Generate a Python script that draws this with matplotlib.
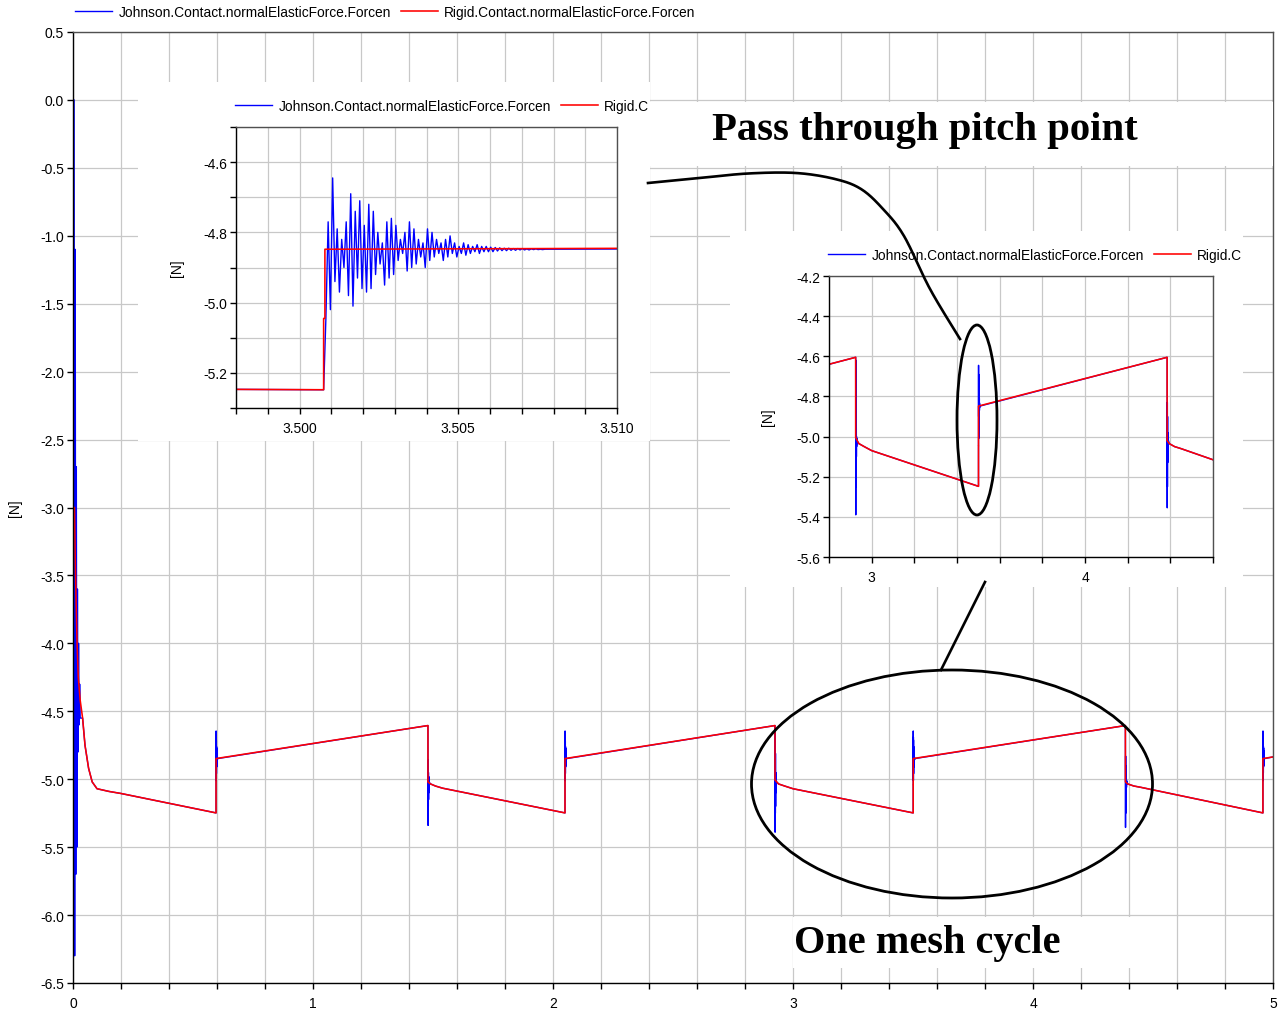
import numpy as np
import matplotlib
matplotlib.use("Agg")
import matplotlib.pyplot as plt
from matplotlib.patches import Ellipse, Rectangle
from matplotlib.lines import Line2D
from matplotlib.ticker import FormatStrFormatter, MultipleLocator

plt.rcParams['font.family'] = ['Liberation Sans', 'DejaVu Sans']
plt.rcParams['axes.unicode_minus'] = False

# ---------------- data ----------------
# Rigid contact model: breakpoints of the trace (time [s], force [N])
rigid_t = [0.000, 0.006, 0.009, 0.013, 0.017, 0.022, 0.030, 0.040, 0.050, 0.065, 0.080, 0.100, 0.150, 0.200,
           0.596, 0.596, 1.479, 1.479, 1.490, 1.510, 1.540, 2.050, 2.050,
           2.925, 2.925, 2.940, 2.965, 3.000, 3.50076, 3.50076, 3.50080, 3.50080,
           4.385, 4.385, 4.395, 4.420, 4.450, 4.958, 4.958, 5.000]
rigid_f = [-3.00, -3.00, -3.35, -3.70, -4.00, -4.25, -4.42, -4.55, -4.75, -4.92, -5.02, -5.07, -5.09, -5.105,
           -5.248, -4.848, -4.605, -5.020, -5.035, -5.050, -5.066, -5.248, -4.848,
           -4.605, -5.005, -5.035, -5.050, -5.070, -5.248, -5.045, -5.045, -4.848,
           -4.605, -5.020, -5.035, -5.050, -5.060, -5.248, -4.848, -4.836]

# Johnson contact model: same trace, plus the oscillation bursts at each contact change
start_burst = [0.0, 0.0, 0.0, -6.3, -1.1, -5.7, -2.7, -5.5, -3.6, -4.8, -4.0, -4.6, -4.3, -4.55]
pitch_burst = [-5.248, -5.045, -4.77, -5.02, -4.645, -4.94, -4.79, -4.97, -4.82, -4.90, -4.77, -4.98,
               -4.69, -5.01, -4.74, -4.93, -4.71, -4.96, -4.78, -4.97, -4.72, -4.96, -4.74, -4.92,
               -4.80, -4.89, -4.83, -4.95, -4.77, -4.93, -4.76, -4.92, -4.78, -4.88, -4.82, -4.86,
               -4.80, -4.91, -4.77, -4.90, -4.79, -4.89, -4.82, -4.87, -4.83, -4.90, -4.79, -4.88,
               -4.80, -4.87, -4.82, -4.86, -4.83, -4.88, -4.82, -4.87, -4.81, -4.86, -4.83, -4.87,
               -4.84, -4.86, -4.83, -4.865, -4.835, -4.86, -4.84, -4.855, -4.835, -4.86, -4.84, -4.855,
               -4.84, -4.855, -4.842, -4.855, -4.843, -4.853, -4.844, -4.852, -4.845, -4.852, -4.845, -4.851,
               -4.846, -4.851, -4.846, -4.85, -4.846, -4.85, -4.847, -4.85, -4.847, -4.849, -4.847, -4.849,
               -4.848, -4.849, -4.848, -4.848]
drop_burst_1 = [-4.605, -5.34, -4.86, -5.20, -4.95, -5.15, -4.98, -5.10, -5.00, -5.06, -5.02, -5.04, -5.025]
drop_burst_2 = [-4.605, -5.39, -4.62, -5.25, -4.81, -5.20, -4.95, -5.10, -5.00, -5.05, -5.01, -5.035, -5.02]
drop_burst_3 = [-4.605, -5.355, -4.83, -5.25, -4.90, -5.13, -4.98, -5.10, -5.00, -5.06, -5.01, -5.04, -5.02]
bursts = [(0.0, 0.030, start_burst),
          (0.596, 0.603, pitch_burst),
          (1.479, 1.485, drop_burst_1),
          (2.050, 2.057, pitch_burst),
          (2.925, 2.931, drop_burst_2),
          (3.50076, 3.5078, pitch_burst),
          (4.385, 4.391, drop_burst_3),
          (4.958, 4.965, pitch_burst)]

johnson_label = 'Johnson.Contact.normalElasticForce.Forcen'
rigid_label = 'Rigid.Contact.normalElasticForce.Forcen'

# build the Johnson trace
rt = np.array(rigid_t)
rf = np.array(rigid_f)
keep = np.ones(len(rt), bool)
jt, jf = [], []
for t0, t1, vals in bursts:
    keep &= ~((rt >= t0) & (rt <= t1))
    jt.append(np.linspace(t0, t1, len(vals)))
    jf.append(np.array(vals))
johnson_t = np.concatenate([rt[keep]] + jt)
johnson_f = np.concatenate([rf[keep]] + jf)
order = np.argsort(johnson_t, kind='stable')
johnson_t, johnson_f = johnson_t[order], johnson_f[order]

# ---------------- layout helpers (pixels from top-left) ----------------
W, H = 1278, 1012
fig = plt.figure(figsize=(W / 100, H / 100), dpi=100)


def box(x0, y0, x1, y1):
    return [x0 / W, 1 - y1 / H, (x1 - x0) / W, (y1 - y0) / H]


def fx(x):
    return x / W


def fy(y):
    return 1 - y / H


GRID = '#c8c8c8'


def style(ax):
    ax.grid(which='both', color=GRID, lw=0.9)
    ax.set_axisbelow(True)
    ax.tick_params(which='both', direction='out', length=4.5, width=1, labelsize=10, pad=2)
    ax.tick_params(axis='x', which='both', pad=5)
    for s in ax.spines.values():
        s.set_linewidth(1.0)
    ax.spines['top'].set_color('#505050')
    ax.spines['right'].set_color('#505050')


def draw(ax):
    ax.plot(johnson_t, johnson_f, color='#0000ff', lw=1.0, label=johnson_label)
    ax.plot(rigid_t, rigid_f, color='#ff0000', lw=1.15, label=rigid_label)


def legend(ax, x, y, short=False):
    h = ax.get_lines()
    labels = [johnson_label, 'Rigid.C' if short else rigid_label]
    ax.legend(h, labels, loc='center left', bbox_to_anchor=(fx(x), fy(y)),
              bbox_transform=fig.transFigure, ncol=2, frameon=False, borderpad=0,
              borderaxespad=0, handlelength=2.7, handletextpad=0.45, columnspacing=0.75,
              fontsize=9.9)


# ---------------- main chart ----------------
ax = fig.add_axes(box(73, 33, 1273, 984), zorder=0)
draw(ax)
ax.set_xlim(0, 5)
ax.set_ylim(-6.5, 0.5)
ax.xaxis.set_major_locator(MultipleLocator(1))
ax.xaxis.set_minor_locator(MultipleLocator(0.2))
ax.yaxis.set_major_locator(MultipleLocator(0.5))
ax.xaxis.set_major_formatter(FormatStrFormatter('%d'))
ax.yaxis.set_major_formatter(FormatStrFormatter('%.1f'))
style(ax)
ax.set_ylabel('[N]', fontsize=10)
ax.yaxis.set_label_coords((22 - 73) / 1200, 0.5)
legend(ax, 75, 13)

# white patches of the pasted pictures
for x0, y0, x1, y1 in [(138, 83, 650, 442), (650, 103, 1273, 167), (730, 232, 1243, 588), (793, 918, 1142, 969)]:
    fig.patches.append(Rectangle((fx(x0), fy(y1)), (x1 - x0) / W, (y1 - y0) / H,
                                 transform=fig.transFigure, facecolor='white',
                                 edgecolor='none', zorder=2))

# ---------------- zoom on the pitch point ----------------
ax1 = fig.add_axes(box(236, 128, 617, 409), zorder=3)
draw(ax1)
ax1.set_xlim(3.498, 3.510)
ax1.set_ylim(-5.3, -4.5)
ax1.set_xticks([3.500, 3.505, 3.510])
ax1.xaxis.set_minor_locator(MultipleLocator(0.001))
ax1.set_yticks([-5.2, -5.0, -4.8, -4.6])
ax1.yaxis.set_minor_locator(MultipleLocator(0.1))
ax1.xaxis.set_major_formatter(FormatStrFormatter('%.3f'))
ax1.yaxis.set_major_formatter(FormatStrFormatter('%.1f'))
style(ax1)
ax1.set_ylabel('[N]', fontsize=10)
ax1.yaxis.set_label_coords((184 - 236) / 381, 0.5)
legend(ax1, 235, 107, short=True)

# ---------------- zoom on one mesh cycle ----------------
ax2 = fig.add_axes(box(829, 277, 1213, 558), zorder=3)
draw(ax2)
ax2.set_xlim(2.8, 4.6)
ax2.set_ylim(-5.6, -4.2)
ax2.set_xticks([3, 4])
ax2.xaxis.set_minor_locator(MultipleLocator(0.2))
ax2.yaxis.set_major_locator(MultipleLocator(0.2))
ax2.xaxis.set_major_formatter(FormatStrFormatter('%d'))
ax2.yaxis.set_major_formatter(FormatStrFormatter('%.1f'))
style(ax2)
ax2.set_ylabel('[N]', fontsize=10)
ax2.yaxis.set_label_coords((775 - 829) / 384, 0.5)
legend(ax2, 828, 256, short=True)

# ---------------- annotations ----------------
for cx, cy, w, h in [(977, 421, 40, 190), (952, 785, 401, 228)]:
    fig.patches.append(Ellipse((fx(cx), fy(cy)), w / W, h / H, transform=fig.transFigure,
                               fill=False, edgecolor='black', lw=2.0, zorder=6))


def smooth(pts, n=20):
    # Catmull-Rom curve through the given points
    p = np.array(pts, float)
    p = np.vstack([p[0], p, p[-1]])
    out = []
    for i in range(1, len(p) - 2):
        p0, p1, p2, p3 = p[i - 1], p[i], p[i + 1], p[i + 2]
        for s in np.linspace(0, 1, n, endpoint=False):
            out.append(0.5 * (2 * p1 + (-p0 + p2) * s + (2 * p0 - 5 * p1 + 4 * p2 - p3) * s ** 2
                              + (-p0 + 3 * p1 - 3 * p2 + p3) * s ** 3))
    out.append(p[-2])
    return np.array(out)


pitch_leader = [(648, 184), (700, 179), (748, 174.5), (796, 174), (835, 180), (861, 190),
                (883, 210), (904, 237), (930, 290), (960, 340)]
cycle_leader = [(941, 671), (985, 583)]
for pts in (smooth(pitch_leader), np.array(cycle_leader, float)):
    fig.lines.append(Line2D(pts[:, 0] / W, 1 - pts[:, 1] / H, transform=fig.transFigure,
                            color='black', lw=1.9, zorder=6))

fig.text(fx(712), fy(140), 'Pass through pitch point', family=['Liberation Serif', 'DejaVu Serif'],
         weight='bold', fontsize=29.3, ha='left', va='baseline', zorder=7)
fig.text(fx(794), fy(953), 'One mesh cycle', family=['Liberation Serif', 'DejaVu Serif'],
         weight='bold', fontsize=29, ha='left', va='baseline', zorder=7)

fig.savefig('out.png', dpi=100)
